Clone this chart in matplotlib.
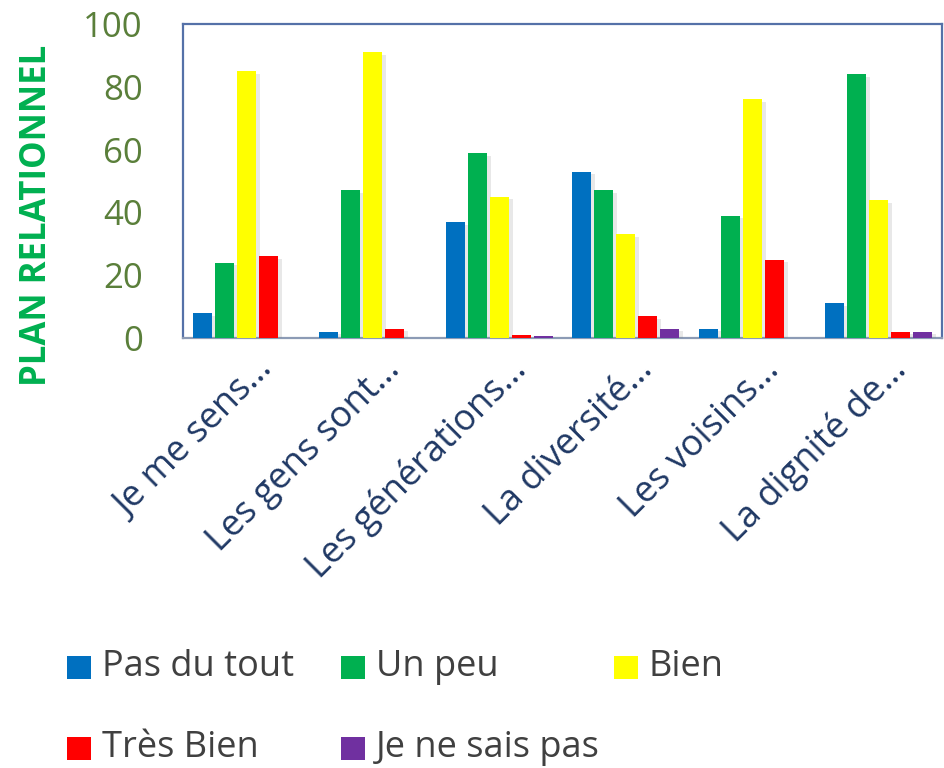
import matplotlib.pyplot as plt
import matplotlib.transforms as mtransforms
import matplotlib.patheffects as pe
from matplotlib.patches import Rectangle
import numpy as np

categories = ["Je me sens…", "Les gens sont…", "Les générations…",
              "La diversité…", "Les voisins…", "La dignité de…"]
series_names = ["Pas du tout", "Un peu", "Bien", "Très Bien", "Je ne sais pas"]
pas_du_tout = [8, 2, 37, 53, 3, 11]
un_peu = [24, 47, 59, 47, 39, 84]
bien = [85, 91, 45, 33, 76, 44]
tres_bien = [26, 3, 1, 7, 25, 2]
je_ne_sais_pas = [0, 0, 0.6, 3, 0, 2]
y_ticks = [0, 20, 40, 60, 80, 100]

series = [pas_du_tout, un_peu, bien, tres_bien, je_ne_sais_pas]
colors = ["#0070C0", "#00B050", "#FFFF00", "#FF0000", "#7030A0"]

plt.rcParams['font.family'] = ['Open Sans', 'DejaVu Sans']

W, H = 945, 768
fig = plt.figure(figsize=(W / 100, H / 100), dpi=100)
ax = fig.add_axes([183 / W, 1 - 338 / H, (942 - 183) / W, (338 - 24) / H])

x = np.arange(len(categories))
pitch = 0.174
width = 0.15
shadow = [pe.SimplePatchShadow(offset=(3, -2), shadow_rgbFace='gray', alpha=0.18), pe.Normal()]
for i, (vals, col) in enumerate(zip(series, colors)):
    bars = ax.bar(x + (i - 2) * pitch, vals, width, color=col, label=series_names[i], zorder=3)
    for b in bars:
        b.set_path_effects(shadow)

ax.set_xlim(-0.5, len(categories) - 0.5)
ax.set_ylim(0, 100)
ax.set_yticks(y_ticks)
ax.tick_params(axis='y', length=0, pad=29, labelsize=25, labelcolor='#5A7F3A')
ax.tick_params(axis='x', length=0)
ax.set_xticks(x)
ax.set_xticklabels(categories, rotation=45, ha='right', va='center',
                   rotation_mode='anchor', fontsize=26, color='#1F3864')
offset = mtransforms.ScaledTranslation(22 / 100, -22 / 100, fig.dpi_scale_trans)
for lab in ax.get_xticklabels():
    lab.set_transform(lab.get_transform() + offset)

for s in ax.spines.values():
    s.set_color('#5571A8')
    s.set_linewidth(1.6)
ax.spines['bottom'].set_color('#8C9BB5')

fig.text(37 / W, 1 - 215 / H, "PLAN RELATIONNEL", rotation=90, ha='center', va='center',
         fontsize=25, fontweight='bold', color='#00B050')

# legend laid out like the original (fixed columns, two rows)
leg_cols = [67, 341, 614]
leg_rows = [667, 748]
slots = [(0, 0), (0, 1), (0, 2), (1, 0), (1, 1)]
for (r, c), name, col in zip(slots, series_names, colors):
    x0 = leg_cols[c]
    y0 = leg_rows[r]
    fig.patches.append(Rectangle((x0 / W, 1 - (y0 + 11.5) / H), 24 / W, 23 / H,
                                 transform=fig.transFigure, facecolor=col, edgecolor='none'))
    fig.text((x0 + 35) / W, 1 - y0 / H, name, ha='left', va='center',
             fontsize=26, color='#404040')

fig.savefig("out.png", dpi=100, facecolor='white')
